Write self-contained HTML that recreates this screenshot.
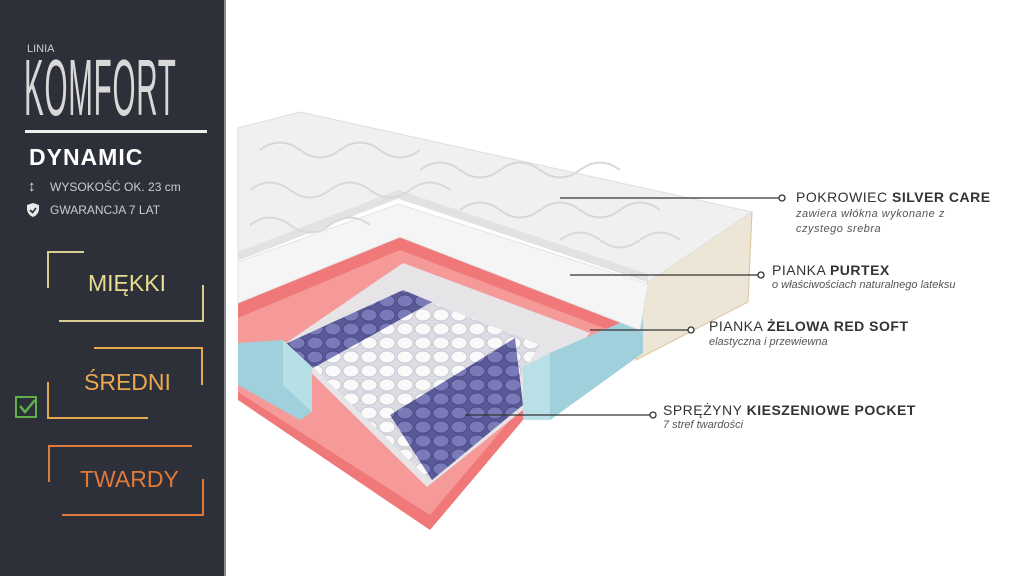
<!DOCTYPE html>
<html><head><meta charset="utf-8"><style>
html,body{margin:0;padding:0;width:1024px;height:576px;overflow:hidden;background:#fff;font-family:"Liberation Sans",sans-serif}
.p{position:absolute}
#panel{left:0;top:0;width:224px;height:576px;background:#2e3039;border-right:2px solid #8a8c92}
.t{position:absolute;white-space:nowrap}
</style></head><body>
<div id="panel" class="p"></div>
<div class="t" style="left:27px;top:43px;font-size:11px;color:#ccc">LINIA</div>
<div class="t" style="left:24px;top:48px;font-size:80px;line-height:80px;color:#d8d8d8;transform:scaleX(0.37);transform-origin:0 0;letter-spacing:2px">KOMFORT</div>
<div class="p" style="left:25px;top:130px;width:182px;height:3px;background:#eee"></div>
<div class="t" style="left:29px;top:144px;font-size:23px;color:#fff;letter-spacing:1px;font-weight:bold">DYNAMIC</div>
<div class="t" style="left:28px;top:178px;font-size:15px;color:#ddd">↕</div>
<div class="t" style="left:50px;top:180px;font-size:12px;color:#ccc">WYSOKOŚĆ OK. 23 cm</div>
<svg class="p" style="left:26px;top:202px" width="14" height="16"><path d="M7 1 L13 3 L13 8 Q12 13 7 15 Q2 13 1 8 L1 3Z" fill="#e8e8e8"/><path d="M4 8 L6.5 10.5 L10 6" stroke="#2e3039" stroke-width="1.6" fill="none"/></svg>
<div class="t" style="left:50px;top:203px;font-size:12px;color:#ccc">GWARANCJA 7 LAT</div>

<svg class="p" style="left:0;top:0" width="224" height="576">
<g fill="none" stroke-width="2">
<path d="M48 288 V252 H84" stroke="#d8cd8e"/>
<path d="M203 285 V321 H59" stroke="#d8cd8e"/>
<path d="M94 348 H202 V385" stroke="#e8a850"/>
<path d="M48 382 V418 H148" stroke="#e8a850"/>
<path d="M49 482 V446 H192" stroke="#e07a3a"/>
<path d="M203 479 V515 H62" stroke="#e07a3a"/>
<rect x="16" y="397" width="20" height="20" stroke="#5fb04a"/>
<path d="M20 406 L25 412 L35 400" stroke="#5fb04a" stroke-width="2.5"/>
</g>
</svg>
<div class="t" style="left:88px;top:270px;font-size:23px;color:#e8dc90">MIĘKKI</div>
<div class="t" style="left:84px;top:369px;font-size:23px;color:#eaa950">ŚREDNI</div>
<div class="t" style="left:80px;top:466px;font-size:23px;color:#e07a3a">TWARDY</div>

<svg class="p" style="left:0;top:0" width="1024" height="576">
<defs>
<pattern id="sp" width="18" height="14" patternUnits="userSpaceOnUse"><rect width="18" height="14" fill="#dcdce4"/><ellipse cx="9" cy="7" rx="8" ry="6" fill="#fafafa" stroke="#c8c8d0"/></pattern>
<pattern id="pp" width="18" height="14" patternUnits="userSpaceOnUse"><rect width="18" height="14" fill="#5a5a98"/><ellipse cx="9" cy="7" rx="8" ry="6" fill="#7a7ab8" stroke="#4a4a88"/></pattern>
<clipPath id="inner"><polygon points="403,265 590,335 523,410 427,487 283,345"/></clipPath>
</defs>
<!-- side of cover -->
<polygon points="648,280 752,212 748,302 636,360" fill="#ede6d6" stroke="#d9c49a"/>
<!-- red layer -->
<polygon points="238,303 400,237 640,330 638,350 523,420 430,530 238,400" fill="#f07878"/>
<polygon points="238,318 400,250 630,338 523,405 430,515 238,392" fill="#f59a98"/>
<!-- inner spring area -->
<polygon points="403,263 590,333 523,410 427,487 283,345" fill="#e6e4e6"/>
<g clip-path="url(#inner)">
<polygon points="290,345 405,292 540,345 480,440 430,480" fill="url(#sp)"/>
<polygon points="283,345 403,290 432,302 313,368" fill="url(#pp)"/>
<polygon points="390,415 515,338 523,405 432,480" fill="url(#pp)"/>
</g>
<!-- blue blocks -->
<polygon points="238,343 283,340 312,367 312,412 300,420 238,385" fill="#9fd0dc"/>
<polygon points="283,340 312,367 312,412 283,385" fill="#b7dfe6"/>
<polygon points="527,367 550,353 643,313 643,353 550,420 523,420" fill="#9fd0dc"/>
<polygon points="523,367 550,353 550,420 523,420" fill="#b9e0e6"/>
<!-- white purtex -->
<polygon points="238,262 398,204 648,284 640,330 400,237 238,303" fill="#f5f5f5" stroke="#e4e4e4"/>
<!-- cover top -->
<polygon points="238,128 300,112 752,212 648,282 398,198 238,260" fill="#f0f0f0" stroke="#dedede"/>
<polygon points="238,252 398,190 648,274 648,282 398,198 238,260" fill="#e2e2e2"/>
<g fill="none" stroke="#d8d8d8" stroke-width="2">
<path d="M260 150 q20 -15 40 0 t40 0 t40 0 t40 0"/>
<path d="M250 190 q20 -15 40 0 t40 0 t40 0 t40 0 t40 0"/>
<path d="M420 170 q20 -15 40 0 t40 0 t40 0 t40 0 t40 0"/>
<path d="M460 210 q20 -15 40 0 t40 0 t40 0 t40 0 t40 0"/>
<path d="M560 240 q20 -15 40 0 t40 0 t40 0"/>
<path d="M250 225 q20 -15 40 0 t40 0 t40 0"/>
</g>
<!-- leader lines -->
<g stroke="#333" stroke-width="1.3" fill="#fff">
<line x1="560" y1="198" x2="779" y2="198"/><circle cx="782" cy="198" r="3"/>
<line x1="570" y1="275" x2="758" y2="275"/><circle cx="761" cy="275" r="3"/>
<line x1="590" y1="330" x2="688" y2="330"/><circle cx="691" cy="330" r="3"/>
<line x1="465" y1="415" x2="650" y2="415"/><circle cx="653" cy="415" r="3"/>
</g>
</svg>
<div class="t" style="left:796px;top:189px;font-size:14px;color:#333;letter-spacing:0.5px">POKROWIEC <b>SILVER CARE</b></div>
<div class="t" style="left:796px;top:207px;font-size:11px;color:#555;font-style:italic;letter-spacing:0.5px;line-height:15px">zawiera włókna wykonane z<br>czystego srebra</div>
<div class="t" style="left:772px;top:262px;font-size:14px;color:#333;letter-spacing:0.5px">PIANKA <b>PURTEX</b></div>
<div class="t" style="left:772px;top:279px;font-size:11px;color:#555;font-style:italic">o właściwościach naturalnego lateksu</div>
<div class="t" style="left:709px;top:318px;font-size:14px;color:#333;letter-spacing:0.5px">PIANKA <b>ŻELOWA RED SOFT</b></div>
<div class="t" style="left:709px;top:336px;font-size:11px;color:#555;font-style:italic">elastyczna i przewiewna</div>
<div class="t" style="left:663px;top:402px;font-size:14px;color:#333;letter-spacing:0.5px">SPRĘŻYNY <b>KIESZENIOWE POCKET</b></div>
<div class="t" style="left:663px;top:419px;font-size:11px;color:#555;font-style:italic">7 stref twardości</div>
</body></html>
